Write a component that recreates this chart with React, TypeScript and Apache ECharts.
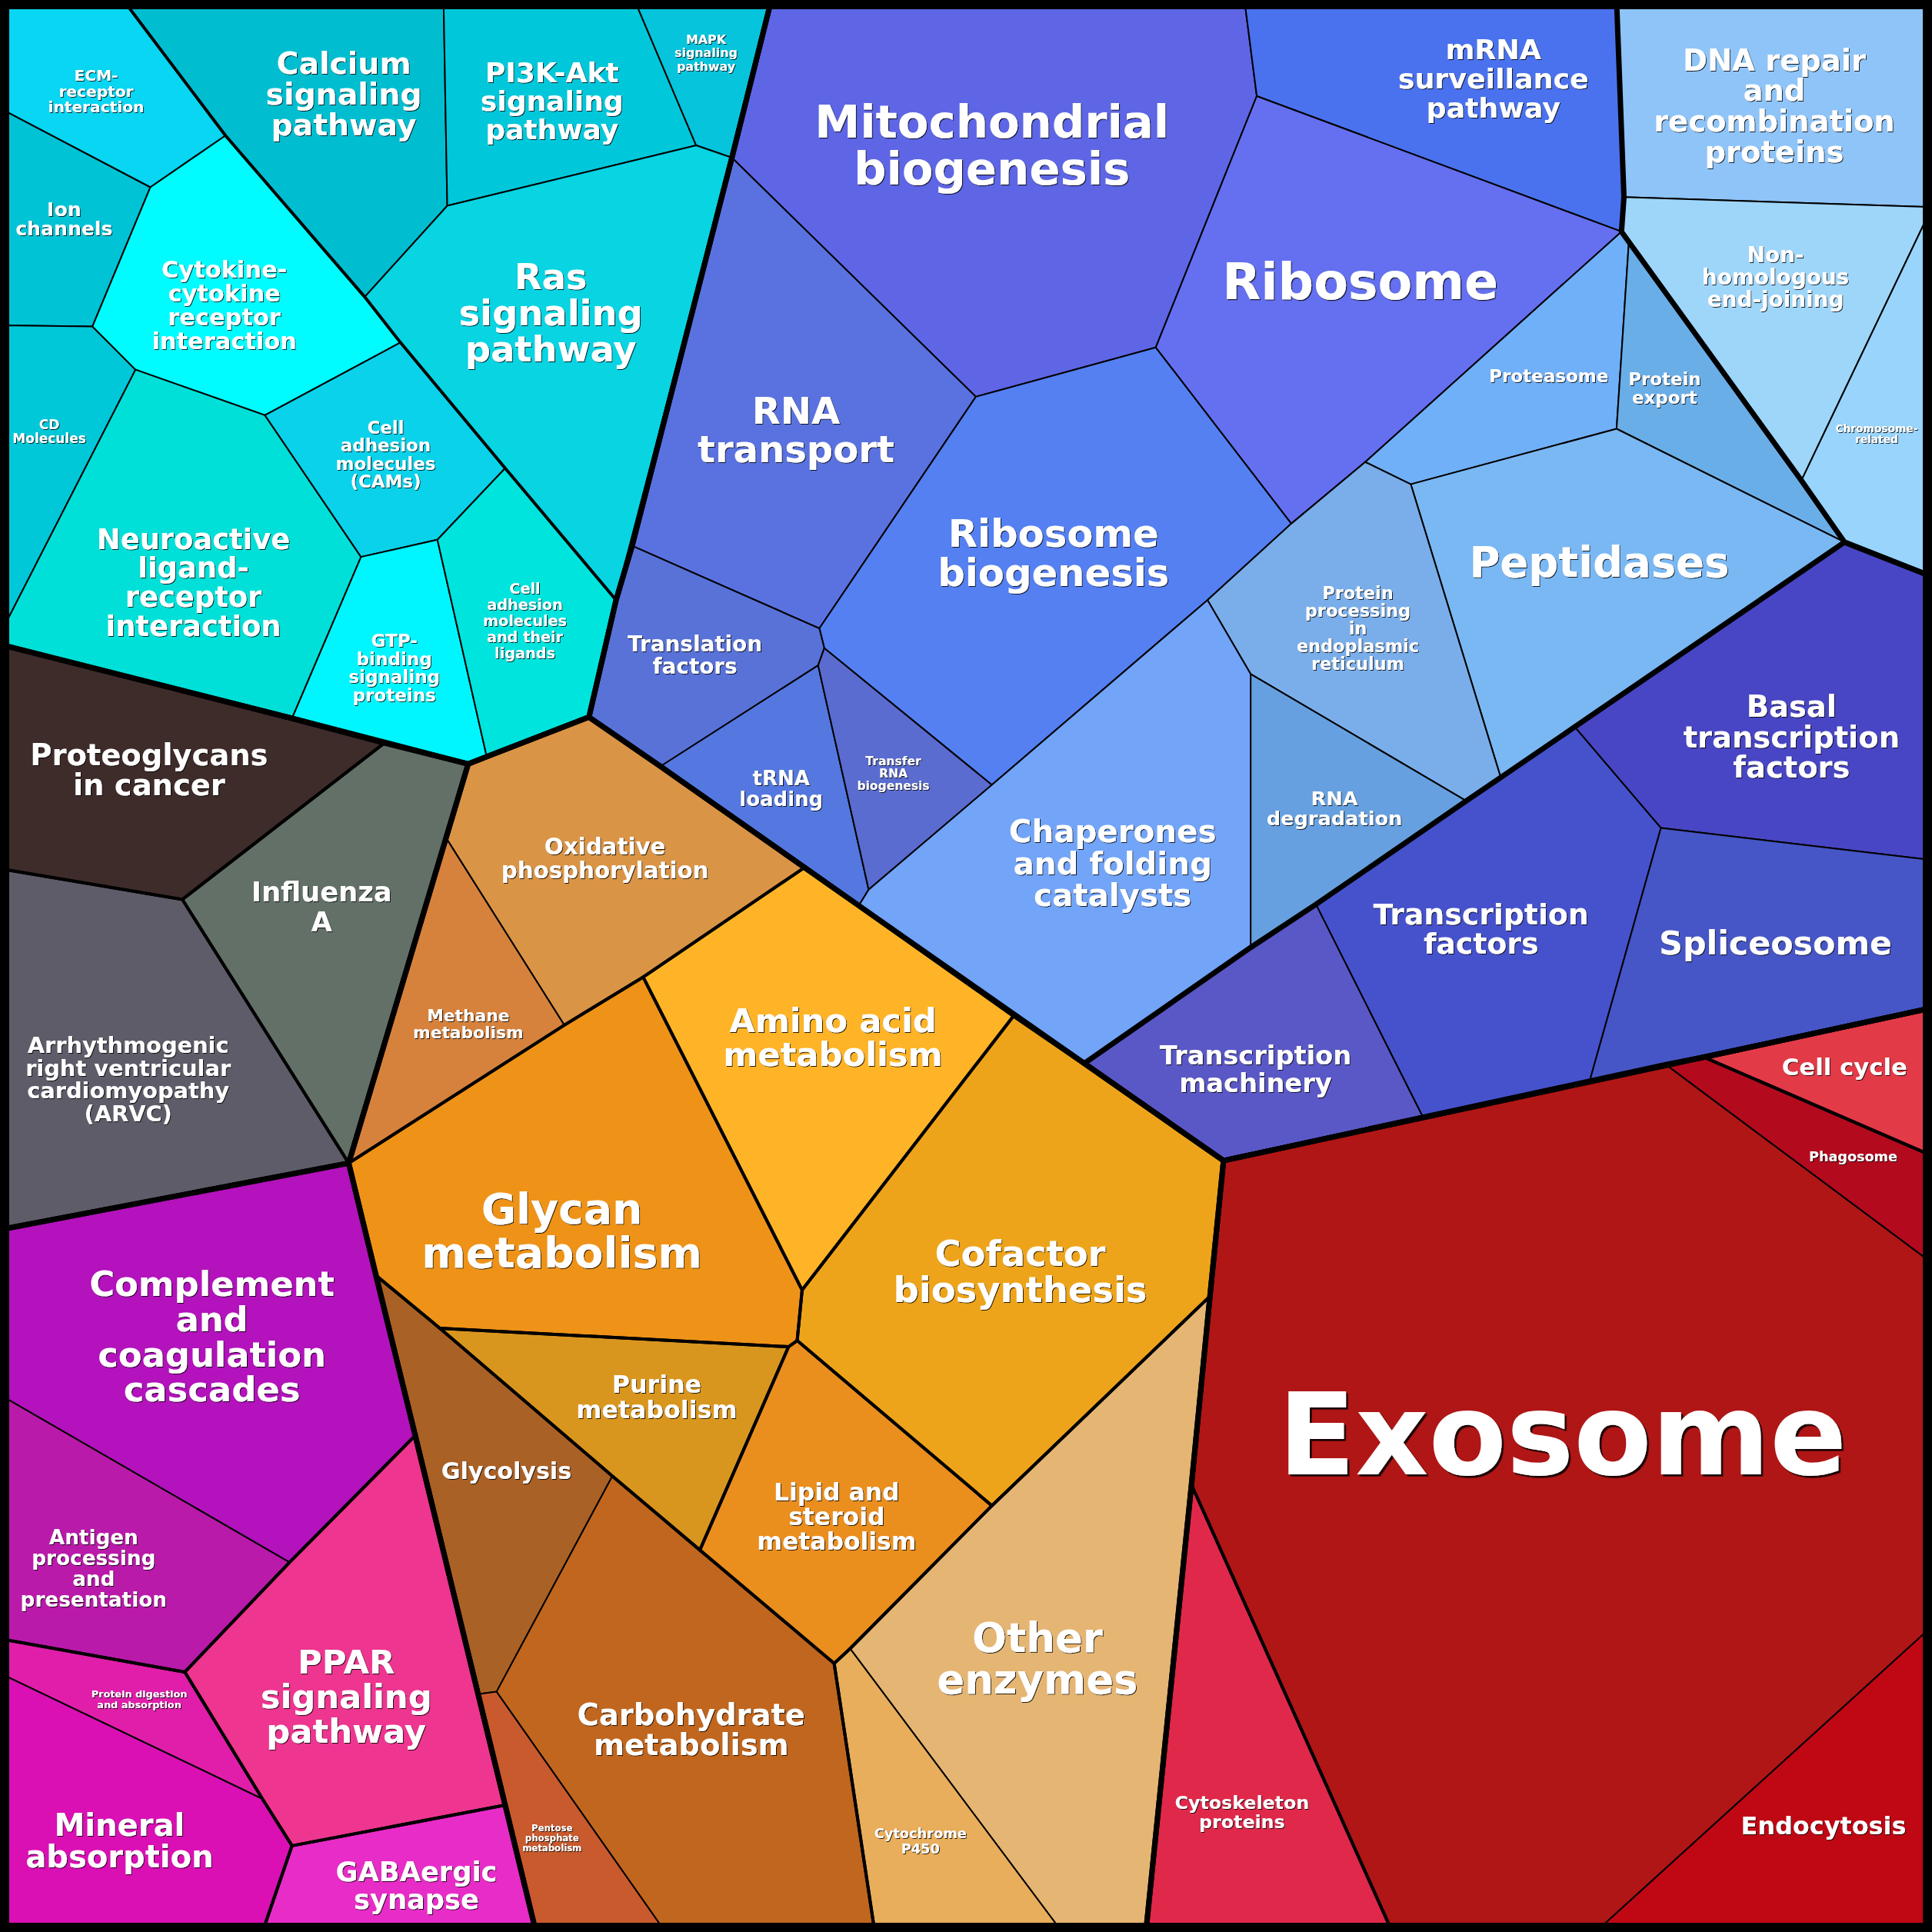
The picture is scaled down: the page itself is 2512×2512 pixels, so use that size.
import React, { useEffect, useRef } from "react";
import * as echarts from "echarts";

const SIZE = 2512;
const SPACE = 1568; // reference coordinate space used for the values below
const K = SIZE / SPACE;

// ---- vertices of the Voronoi cells (reference space 0..1568, y downward) ----
const vertices: Record<string, [number, number]> = {
  TL: [0, 0], TR: [1568, 0], BL: [0, 1568], BR: [1568, 1568],
  // environmental information processing
  c1: [100, 0], c2: [360, 0], c3: [515, 0], c4: [626, 0],
  c5: [183, 110], c6: [122, 152], c7: [0, 88], c8: [75, 265], c9: [0, 264],
  c10: [110, 300], c11: [0, 515], c12: [0, 523], c13: [215, 337],
  c14: [296, 241], c15: [325, 278], c16: [363, 167], c17: [565, 118],
  c18: [594, 128], c19: [410, 380], c20: [355, 438], c21: [293, 452],
  c22: [500, 487], c23: [478, 582], c24: [395, 614], c25: [380, 620],
  c26: [237, 583],
  // diseases
  d1: [312, 603], d2: [148, 730], d3: [0, 705], d4: [283, 944], d5: [0, 998],
  // organismal systems
  o1: [337, 1165], o2: [0, 1132], o3: [235, 1268], o4: [150, 1357],
  o5: [0, 1330], o6: [0, 1358], o7: [213, 1460], o8: [237, 1498],
  o9: [410, 1465], o10: [435, 1568], o11: [213, 1568],
  // metabolism
  m1: [653, 704], m2: [823, 824], m3: [993, 942], m4: [362, 680],
  m5: [458, 832], m6: [522, 793], m7: [651, 1047], m8: [647, 1088],
  m9: [640, 1093], m10: [357, 1078], m11: [305, 1035], m12: [982, 1052],
  m13: [805, 1222], m14: [497, 1198], m15: [568, 1258], m16: [403, 1373],
  m17: [388, 1375], m18: [540, 1568], m19: [677, 1350], m20: [690, 1338],
  m21: [710, 1568], m22: [862, 1568], m23: [967, 1205], m24: [930, 1568],
  // cellular processes
  r1: [1352, 864], r2: [1383, 858], r3: [1568, 818], r4: [1568, 938],
  r5: [1568, 1025], r6: [1568, 1320], r7: [1295, 1568], r8: [1130, 1568],
  // genetic information processing
  b1: [1010, 0], b2: [1312, 0], b3: [1020, 78], b4: [1318, 160],
  b5: [1316, 188], b6: [938, 282], b7: [792, 322], b8: [1108, 375],
  b9: [1048, 425], b10: [1568, 168], b11: [1462, 390], b12: [1497, 440],
  b13: [1568, 468], b14: [1322, 196], b15: [1312, 348], b16: [1145, 393],
  b17: [1218, 631], b18: [1190, 650], b19: [1278, 590], b20: [980, 487],
  b21: [1015, 547], b22: [1068, 734], b23: [1015, 769], b24: [880, 863],
  b25: [697, 735], b26: [805, 637], b27: [665, 510], b28: [669, 526],
  b29: [513, 443], b30: [536, 622], b31: [664, 540], b32: [705, 722],
  b33: [1348, 672], b34: [1568, 698], b35: [1290, 878], b36: [1155, 907],
};

// ---- cells: [label, vertex chain] per top-level category ----
const envCells: [string, string][] = [
  ["ECM-\nreceptor\ninteraction", "TL c1 c5 c6 c7"],
  ["Ion\nchannels", "c7 c6 c8 c9"],
  ["CD\nMolecules", "c9 c8 c10 c11"],
  ["Cytokine-\ncytokine\nreceptor\ninteraction", "c6 c5 c14 c15 c13 c10 c8"],
  ["Neuroactive\nligand-\nreceptor\ninteraction", "c11 c10 c13 c21 c26 c12"],
  ["Cell\nadhesion\nmolecules\n(CAMs)", "c13 c15 c19 c20 c21"],
  ["GTP-\nbinding\nsignaling\nproteins", "c21 c20 c24 c25 c26"],
  ["Cell\nadhesion\nmolecules\nand their\nligands", "c20 c19 c22 c23 c24"],
  ["Calcium\nsignaling\npathway", "c1 c2 c16 c14 c5"],
  ["PI3K-Akt\nsignaling\npathway", "c2 c3 c17 c16"],
  ["MAPK\nsignaling\npathway", "c3 c4 c18 c17"],
  ["Ras\nsignaling\npathway", "c16 c17 c18 c22 c19 c15 c14"],
];
const diseaseCells: [string, string][] = [
  ["Proteoglycans\nin cancer", "c12 c26 d1 d2 d3"],
  ["Influenza\nA", "d1 c25 d4 d2"],
  ["Arrhythmogenic\nright ventricular\ncardiomyopathy\n(ARVC)", "d3 d2 d4 d5"],
];
const organismCells: [string, string][] = [
  ["Complement\nand\ncoagulation\ncascades", "d5 d4 o1 o3 o2"],
  ["Antigen\nprocessing\nand\npresentation", "o2 o3 o4 o5"],
  ["PPAR\nsignaling\npathway", "o3 o1 o9 o8 o7 o4"],
  ["Protein digestion\nand absorption", "o5 o4 o7 o6"],
  ["Mineral\nabsorption", "o6 o7 o8 o11 BL"],
  ["GABAergic\nsynapse", "o8 o9 o10 o11"],
];
const metabolismCells: [string, string][] = [
  ["Oxidative\nphosphorylation", "c25 c23 b30 m1 m6 m5 m4"],
  ["Methane\nmetabolism", "m4 m5 d4"],
  ["Glycan\nmetabolism", "d4 m5 m6 m7 m8 m9 m10 m11"],
  ["Amino acid\nmetabolism", "m6 m1 b25 m2 m7"],
  ["Cofactor\nbiosynthesis", "m7 m2 b24 m3 m12 m13 m8"],
  ["Purine\nmetabolism", "m10 m9 m15 m14"],
  ["Lipid and\nsteroid\nmetabolism", "m9 m8 m13 m20 m19 m15"],
  ["Glycolysis", "m11 m10 m14 m16 m17"],
  ["Carbohydrate\nmetabolism", "m14 m15 m19 m21 m18 m16"],
  ["Pentose\nphosphate\nmetabolism", "m17 m16 m18 o10"],
  ["Other\nenzymes", "m13 m12 m23 m24 m22 m20"],
  ["Cytochrome\nP450", "m20 m22 m21 m19"],
];
const cellularCells: [string, string][] = [
  ["Exosome", "m3 r1 r5 r6 r7 r8 m23 m12"],
  ["Cell cycle", "r2 r3 r4"],
  ["Phagosome", "r1 r2 r4 r5"],
  ["Endocytosis", "r6 BR r7"],
  ["Cytoskeleton\nproteins", "m23 r8 m24"],
];
const geneticCells: [string, string][] = [
  ["Mitochondrial\nbiogenesis", "c4 b1 b3 b6 b7 c18"],
  ["mRNA\nsurveillance\npathway", "b1 b2 b4 b5 b3"],
  ["Ribosome", "b3 b5 b8 b9 b6"],
  ["RNA\ntransport", "c18 b7 b27 b29"],
  ["Ribosome\nbiogenesis", "b7 b6 b9 b20 b26 b28 b27"],
  ["Translation\nfactors", "b29 b27 b28 b31 b30 c23 c22"],
  ["tRNA\nloading", "b30 b31 b32 b25"],
  ["Transfer\nRNA\nbiogenesis", "b28 b26 b32 b31"],
  ["DNA repair\nand\nrecombination\nproteins", "b2 TR b10 b4"],
  ["Non-\nhomologous\nend-joining", "b4 b10 b11 b5"],
  ["Chromosome-\nrelated", "b10 b13 b12 b11"],
  ["Proteasome", "b8 b5 b14 b15 b16"],
  ["Protein\nexport", "b14 b11 b12 b15"],
  ["Peptidases", "b16 b15 b12 b19 b17"],
  ["Protein\nprocessing\nin\nendoplasmic\nreticulum", "b9 b8 b16 b17 b18 b21 b20"],
  ["RNA\ndegradation", "b21 b18 b22 b23"],
  ["Chaperones\nand folding\ncatalysts", "b20 b21 b23 b24 b25 b32 b26"],
  ["Basal\ntranscription\nfactors", "b19 b12 b13 b34 b33"],
  ["Transcription\nfactors", "b18 b17 b19 b33 b35 b36 b22"],
  ["Spliceosome", "b33 b34 r3 b35"],
  ["Transcription\nmachinery", "b24 b22 b36 m3"],
];

// ---- second-level category outlines (medium lines) ----
const subgroupOutlines: string[] = [
  "c1 c2 c3 c4 c18 c22 c19 c15 c14 c5",
  "c12 c26 d1 d2 d3", "d1 c25 d4 d2", "d3 d2 d4 d5",
  "d5 d4 o1 o3 o4 o5", "o3 o1 o9 o8 o7 o4", "o5 o4 o7 o8 o11 BL", "o8 o9 o10 o11",
  "c25 c23 b30 m1 m6 m5 d4 m4", "m6 m1 b25 m2 m7", "d4 m5 m6 m7 m8 m9 m10 m11",
  "m7 m2 b24 m3 m12 m13 m8", "m10 m9 m15 m14", "m9 m8 m13 m20 m19 m15",
  "m11 m10 m14 m15 m19 m21 m18 o10 m17", "m13 m12 m23 m24 m22 m21 m19 m20",
  "m3 r1 r2 r4 r6 BR r7 r8 m23 m12", "r2 r3 r4", "m23 r8 m24",
];

// ---- top-level category outlines (thick lines) ----
const groupOutlines: string[] = [
  "TL c4 c18 b29 c22 c23 c24 c25 c26 c12",
  "c12 c26 d1 c25 d4 d5",
  "d5 d4 o1 o9 o10 BL",
  "c25 c23 b30 m1 b25 m2 b24 m3 m12 m23 m24 o10 o9 m17 o1 m11 d4 m4",
  "m3 r1 r2 r3 BR r7 r8 m24 m23 m12",
  "c4 TR r3 b35 b36 m3 b24 b25 b30 c23 c22 b29 c18",
  "b2 TR b13 b12 b11 b5 b4",
  "b24 b23 b22 b18 b17 b19 b12 b13 r3 b35 b36 m3",
];

// ---- styles ----
const cellColor: Record<string, string> = {
  "ECM-\nreceptor\ninteraction": "#08d6f2",
  "Ion\nchannels": "#00c4d6",
  "CD\nMolecules": "#00c8d8",
  "Cytokine-\ncytokine\nreceptor\ninteraction": "#00fcfe",
  "Neuroactive\nligand-\nreceptor\ninteraction": "#00e0d8",
  "Cell\nadhesion\nmolecules\n(CAMs)": "#0ad2ea",
  "GTP-\nbinding\nsignaling\nproteins": "#00f6fe",
  "Cell\nadhesion\nmolecules\nand their\nligands": "#00e4de",
  "Calcium\nsignaling\npathway": "#00bed0",
  "PI3K-Akt\nsignaling\npathway": "#00c8da",
  "MAPK\nsignaling\npathway": "#06c4dc",
  "Ras\nsignaling\npathway": "#08d4e2",
  "Proteoglycans\nin cancer": "#3e2c2a",
  "Influenza\nA": "#627068",
  "Arrhythmogenic\nright ventricular\ncardiomyopathy\n(ARVC)": "#5f5c69",
  "Complement\nand\ncoagulation\ncascades": "#b312bc",
  "Antigen\nprocessing\nand\npresentation": "#ba1aaa",
  "PPAR\nsignaling\npathway": "#ee3590",
  "Protein digestion\nand absorption": "#e01eaa",
  "Mineral\nabsorption": "#da10b4",
  "GABAergic\nsynapse": "#e82cc8",
  "Oxidative\nphosphorylation": "#da9445",
  "Methane\nmetabolism": "#d6823c",
  "Glycan\nmetabolism": "#ee9318",
  "Amino acid\nmetabolism": "#feb426",
  "Cofactor\nbiosynthesis": "#eea41a",
  "Purine\nmetabolism": "#d9961e",
  "Lipid and\nsteroid\nmetabolism": "#ea8e1e",
  "Glycolysis": "#aa6125",
  "Carbohydrate\nmetabolism": "#c1661e",
  "Pentose\nphosphate\nmetabolism": "#c85a2e",
  "Other\nenzymes": "#e5b573",
  "Cytochrome\nP450": "#e8ae5c",
  "Exosome": "#b01616",
  "Cell cycle": "#e33a48",
  "Phagosome": "#b40a1e",
  "Endocytosis": "#c00814",
  "Cytoskeleton\nproteins": "#e0284a",
  "Mitochondrial\nbiogenesis": "#5e66e6",
  "mRNA\nsurveillance\npathway": "#4a72ee",
  "Ribosome": "#6470f0",
  "RNA\ntransport": "#5a72e0",
  "Ribosome\nbiogenesis": "#5480f2",
  "Translation\nfactors": "#5872d8",
  "tRNA\nloading": "#5478e0",
  "Transfer\nRNA\nbiogenesis": "#5a6ccf",
  "DNA repair\nand\nrecombination\nproteins": "#8ec4f8",
  "Non-\nhomologous\nend-joining": "#9ed6fa",
  "Chromosome-\nrelated": "#98d4fc",
  "Proteasome": "#70b0f8",
  "Protein\nexport": "#6aaee8",
  "Peptidases": "#7ab8f4",
  "Protein\nprocessing\nin\nendoplasmic\nreticulum": "#7aaeea",
  "RNA\ndegradation": "#66a0e0",
  "Chaperones\nand folding\ncatalysts": "#72a4f8",
  "Basal\ntranscription\nfactors": "#4846c4",
  "Transcription\nfactors": "#4652cc",
  "Spliceosome": "#4656c6",
  "Transcription\nmachinery": "#5a58c6",
};

// label layout: [x, y, fontSize, lineHeight] in reference space
const labelLayout: Record<string, [number, number, number, number]> = {
  "ECM-\nreceptor\ninteraction": [78, 74, 12.6, 13],
  "Ion\nchannels": [52, 178, 15.7, 16],
  "CD\nMolecules": [40, 350, 10.6, 11],
  "Cytokine-\ncytokine\nreceptor\ninteraction": [182, 248, 19, 19.3],
  "Neuroactive\nligand-\nreceptor\ninteraction": [157, 473, 23, 23.5],
  "Cell\nadhesion\nmolecules\n(CAMs)": [313, 369, 14.3, 14.6],
  "GTP-\nbinding\nsignaling\nproteins": [320, 542, 14.4, 14.6],
  "Cell\nadhesion\nmolecules\nand their\nligands": [426, 504, 12, 13.2],
  "Calcium\nsignaling\npathway": [279, 76, 24.6, 25],
  "PI3K-Akt\nsignaling\npathway": [448, 82, 22.5, 23],
  "MAPK\nsignaling\npathway": [573, 43, 9.9, 11],
  "Ras\nsignaling\npathway": [447, 254, 29, 29.5],
  "Proteoglycans\nin cancer": [121, 625, 24, 24.5],
  "Influenza\nA": [261, 736, 22, 24],
  "Arrhythmogenic\nright ventricular\ncardiomyopathy\n(ARVC)": [104, 876, 18, 18.4],
  "Complement\nand\ncoagulation\ncascades": [172, 1085, 28, 28.6],
  "Antigen\nprocessing\nand\npresentation": [76, 1273, 16.4, 16.8],
  "PPAR\nsignaling\npathway": [281, 1377, 27, 28],
  "Protein digestion\nand absorption": [113, 1379, 8, 8.5],
  "Mineral\nabsorption": [97, 1494, 25, 26],
  "GABAergic\nsynapse": [338, 1530, 22, 22.5],
  "Oxidative\nphosphorylation": [491, 697, 18.3, 19],
  "Methane\nmetabolism": [380, 831, 13.6, 14],
  "Glycan\nmetabolism": [456, 999, 34.5, 35.2],
  "Amino acid\nmetabolism": [676, 842, 27, 27.6],
  "Cofactor\nbiosynthesis": [828, 1032, 29, 29.6],
  "Purine\nmetabolism": [533, 1134, 19.8, 20.3],
  "Lipid and\nsteroid\nmetabolism": [679, 1231, 19.6, 20],
  "Glycolysis": [411, 1194, 18.8, 19],
  "Carbohydrate\nmetabolism": [561, 1404, 24, 24.5],
  "Pentose\nphosphate\nmetabolism": [448, 1492, 7.3, 8],
  "Other\nenzymes": [842, 1346, 33, 33.7],
  "Cytochrome\nP450": [747, 1494, 11.1, 12],
  "Exosome": [1268, 1165, 92, 92],
  "Cell cycle": [1497, 866, 19.2, 19.6],
  "Phagosome": [1504, 939, 11, 11.3],
  "Endocytosis": [1480, 1482, 19.9, 20.3],
  "Cytoskeleton\nproteins": [1008, 1471, 14.8, 16],
  "Mitochondrial\nbiogenesis": [805, 118, 37, 37.8],
  "mRNA\nsurveillance\npathway": [1212, 64, 22.7, 23.5],
  "Ribosome": [1104, 229, 40.6, 41.4],
  "RNA\ntransport": [646, 349, 30, 31],
  "Ribosome\nbiogenesis": [855, 449, 31, 32],
  "Translation\nfactors": [564, 532, 17.4, 17.9],
  "tRNA\nloading": [634, 640, 16.2, 17],
  "Transfer\nRNA\nbiogenesis": [725, 628, 9.7, 10],
  "DNA repair\nand\nrecombination\nproteins": [1440, 86, 24, 24.7],
  "Non-\nhomologous\nend-joining": [1441, 225, 17.4, 17.9],
  "Chromosome-\nrelated": [1523, 352, 8.6, 8.9],
  "Proteasome": [1257, 305, 14.4, 14.8],
  "Protein\nexport": [1351, 315, 14.3, 15],
  "Peptidases": [1298, 456, 34, 34.7],
  "Protein\nprocessing\nin\nendoplasmic\nreticulum": [1102, 510, 14, 14.4],
  "RNA\ndegradation": [1083, 656, 16, 16.4],
  "Chaperones\nand folding\ncatalysts": [903, 701, 25.2, 25.8],
  "Basal\ntranscription\nfactors": [1454, 598, 24, 24.5],
  "Transcription\nfactors": [1202, 754, 23.6, 24.1],
  "Spliceosome": [1441, 765, 26.7, 27.3],
  "Transcription\nmachinery": [1019, 868, 21, 22],
};

const allCells: [string, string][] = [
  ...envCells, ...diseaseCells, ...organismCells,
  ...metabolismCells, ...cellularCells, ...geneticCells,
];

const THIN = 2;
const MEDIUM = 4;
const THICK = 7;

function chain(api: any, spec: string) {
  return spec.split(" ").map((v) => api.coord(vertices[v]));
}

export default function App() {
  const ref = useRef<HTMLDivElement>(null);
  useEffect(() => {
    document.body.style.margin = "0";
    if (!ref.current) return;
    const chart = echarts.init(ref.current, undefined, { renderer: "svg" });
    const outlineSeries = (list: string[], width: number, z: number) => ({
      type: "custom",
      coordinateSystem: "cartesian2d",
      silent: true,
      z,
      data: list.map((_, i) => [i, 0]),
      renderItem: (params: any, api: any) => ({
        type: "polygon",
        shape: { points: chain(api, list[params.dataIndex]) },
        style: { fill: "none", stroke: "#000", lineWidth: width, lineJoin: "miter", miterLimit: 4 },
      }),
    });
    chart.setOption({
      animation: false,
      grid: { left: 0, right: 0, top: 0, bottom: 0 },
      xAxis: { type: "value", min: 0, max: SPACE, show: false },
      yAxis: { type: "value", min: 0, max: SPACE, inverse: true, show: false },
      series: [
        {
          type: "custom",
          coordinateSystem: "cartesian2d",
          silent: true,
          z: 1,
          data: allCells.map((_, i) => [i, 0]),
          renderItem: (params: any, api: any) => {
            const [label, spec] = allCells[params.dataIndex];
            return {
              type: "polygon",
              shape: { points: chain(api, spec) },
              style: { fill: cellColor[label], stroke: "#000", lineWidth: THIN, lineJoin: "miter" },
            };
          },
        },
        outlineSeries(subgroupOutlines, MEDIUM, 2),
        outlineSeries(groupOutlines, THICK, 3),
        {
          type: "custom",
          coordinateSystem: "cartesian2d",
          silent: true,
          z: 4,
          data: allCells.map((_, i) => [i, 0]),
          renderItem: (params: any, api: any) => {
            const [label] = allCells[params.dataIndex];
            const [x, y, fs, lh] = labelLayout[label];
            const p = api.coord([x, y]);
            const f = fs * K;
            const off = Math.max(1, f * 0.018);
            return {
              type: "text",
              x: p[0],
              y: p[1],
              style: {
                text: label,
                fill: "#ffffff",
                fontSize: f,
                fontWeight: "bold",
                fontFamily: '"DejaVu Sans", sans-serif',
                lineHeight: Math.max(lh, fs * 1.02) * K,
                align: "center",
                verticalAlign: "middle",
                textShadowColor: "rgba(0,0,0,0.85)",
                textShadowBlur: 1,
                textShadowOffsetX: off,
                textShadowOffsetY: off,
              },
            };
          },
        },
      ],
      graphic: [
        {
          type: "rect",
          z: 10,
          silent: true,
          shape: { x: 0, y: 0, width: SIZE, height: SIZE },
          style: { fill: "none", stroke: "#000", lineWidth: 24 },
        },
      ],
    });
    return () => chart.dispose();
  }, []);
  return <div ref={ref} style={{ width: SIZE, height: SIZE }} />;
}
